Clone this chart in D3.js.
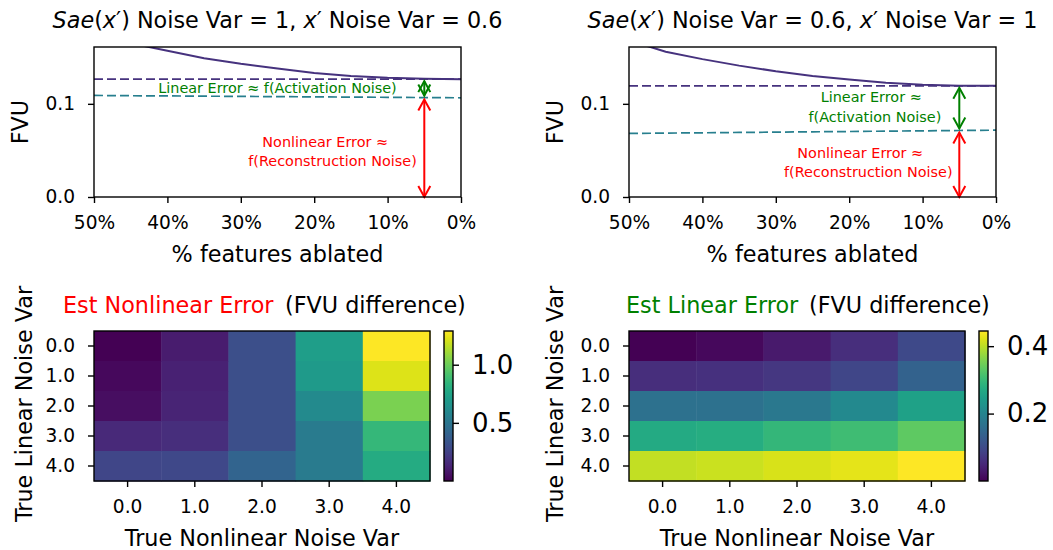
<!DOCTYPE html>
<html><head><meta charset="utf-8">
<script src="https://cdn.jsdelivr.net/npm/d3@7"></script>
<style>
html,body{margin:0;padding:0;background:#fff;}
svg{display:block;font-family:"DejaVu Sans",sans-serif;}
</style></head>
<body><svg id="c" width="1053" height="550"></svg>
<script>
// ---------- data ----------
const pctTicks = [50, 40, 30, 20, 10, 0];
const pct = [50, 45, 40, 35, 30, 25, 20, 15, 10, 5, 0];
// left panel: Sae(x') noise var = 1, x' noise var = 0.6
const leftSae = [0.175, 0.165, 0.157, 0.149, 0.143, 0.138, 0.133, 0.130, 0.128, 0.127, 0.1265];
const leftSaeFull = 0.1265;   // dashed purple
const leftLinear = [0.1090, 0.1087, 0.1085, 0.1082, 0.1080, 0.1077, 0.1075, 0.1072, 0.1070, 0.1067, 0.1065];
// right panel: Sae(x') noise var = 0.6, x' noise var = 1
const rightSae = [0.168, 0.156, 0.148, 0.141, 0.135, 0.130, 0.126, 0.1225, 0.1205, 0.1195, 0.1193];
const rightSaeFull = 0.1193;
const rightLinear = [0.0682, 0.0686, 0.0689, 0.0693, 0.0696, 0.0700, 0.0703, 0.0707, 0.0710, 0.0714, 0.0717];
const fvuTicks = [0.0, 0.1];
const arrowPct = 5;

const noiseCats = ["0.0", "1.0", "2.0", "3.0", "4.0"];
// rows: true linear noise var; cols: true nonlinear noise var
const estNonlinear = [
  [0.00, 0.10, 0.31, 0.72, 1.29],
  [0.03, 0.12, 0.31, 0.70, 1.22],
  [0.05, 0.13, 0.31, 0.61, 1.03],
  [0.15, 0.17, 0.31, 0.53, 0.86],
  [0.27, 0.28, 0.41, 0.53, 0.79]
];
const estLinear = [
  [0.000, 0.009, 0.031, 0.058, 0.098],
  [0.058, 0.062, 0.071, 0.093, 0.138],
  [0.165, 0.165, 0.178, 0.209, 0.254],
  [0.271, 0.276, 0.294, 0.307, 0.334],
  [0.405, 0.409, 0.418, 0.427, 0.445]
];
const cbTicksNonlinear = [0.5, 1.0];
const cbTicksLinear = [0.2, 0.4];

// ---------- styles ----------
const FONT_TICK = 18.6, FONT_LABEL = 22.3, FONT_ANN = 14.4, FONT_CB = 26;
const PAD = 13;
const PURPLE = "#46327e", TEAL = "#277f8e";
const svg = d3.select("#c");
svg.append("rect").attr("width", 1053).attr("height", 550).attr("fill", "#fff");

function styleAxis(g, fs) {
  g.select(".domain").remove();
  g.selectAll(".tick line").attr("stroke", "#000").attr("stroke-width", 1.4);
  g.selectAll(".tick text").attr("fill", "#000").attr("font-size", fs).attr("font-family", "DejaVu Sans");
}

function arrow(g, x, yA, yB, color) {
  const hl = 11, hw = 6;
  g.append("line").attr("x1", x).attr("x2", x).attr("y1", yA).attr("y2", yB)
    .attr("stroke", color).attr("stroke-width", 2);
  const dir = yB < yA ? -1 : 1;
  g.append("path").attr("d", `M${x - hw},${yB - dir * hl}L${x},${yB}L${x + hw},${yB - dir * hl}`)
    .attr("fill", "none").attr("stroke", color).attr("stroke-width", 2);
  g.append("path").attr("d", `M${x - hw},${yA + dir * hl}L${x},${yA}L${x + hw},${yA + dir * hl}`)
    .attr("fill", "none").attr("stroke", color).attr("stroke-width", 2);
}

function linePanel(cfg) {
  const x = d3.scaleLinear().domain([50, 0]).range([cfg.x0, cfg.x1]);
  const y = d3.scaleLinear().domain([0, 0.161]).range([197, 47]);
  const g = svg.append("g");
  const clipId = "clip" + cfg.id;
  svg.append("clipPath").attr("id", clipId).append("rect")
    .attr("x", cfg.x0).attr("y", 47).attr("width", cfg.x1 - cfg.x0).attr("height", 150);
  const line = d3.line().x((d, i) => x(pct[i])).y(d => y(d));
  const pg = g.append("g").attr("clip-path", `url(#${clipId})`);
  pg.append("path").datum(cfg.sae).attr("d", line).attr("fill", "none")
    .attr("stroke", PURPLE).attr("stroke-width", 2);
  pg.append("path").datum(pct.map(() => cfg.saeFull)).attr("d", line).attr("fill", "none")
    .attr("stroke", PURPLE).attr("stroke-width", 1.7).attr("stroke-dasharray", "9,4");
  pg.append("path").datum(cfg.lin).attr("d", line).attr("fill", "none")
    .attr("stroke", TEAL).attr("stroke-width", 1.7).attr("stroke-dasharray", "9,4");
  const ax = x(arrowPct);
  const linAt = cfg.lin[pct.indexOf(arrowPct)];
  arrow(g, ax, y(0), y(linAt) + 2, "red");
  arrow(g, ax, y(linAt) - 2, y(cfg.saeFull) + 2, "green");
  cfg.ann.forEach(a => {
    g.append("text").attr("x", x(a.p)).attr("y", y(a.v)).attr("text-anchor", "middle")
      .attr("dominant-baseline", "central").attr("font-size", FONT_ANN).attr("fill", a.c).text(a.t);
  });
  const gx = g.append("g").attr("transform", "translate(0,197)")
    .call(d3.axisBottom(x).tickValues(pctTicks).tickFormat(d => d + "%").tickSize(6).tickPadding(PAD));
  styleAxis(gx, FONT_TICK);
  const gy = g.append("g").attr("transform", `translate(${cfg.x0},0)`)
    .call(d3.axisLeft(y).tickValues(fvuTicks).tickFormat(d3.format(".1f")).tickSize(6).tickPadding(PAD));
  styleAxis(gy, FONT_TICK);
  g.append("rect").attr("x", cfg.x0).attr("y", 47).attr("width", cfg.x1 - cfg.x0).attr("height", 150)
    .attr("fill", "none").attr("stroke", "#000").attr("stroke-width", 1.4);
  g.append("text").attr("transform", `translate(${cfg.ylx},122) rotate(-90)`).attr("text-anchor", "middle")
    .attr("font-size", FONT_LABEL).text("FVU");
  g.append("text").attr("x", (cfg.x0 + cfg.x1) / 2).attr("y", 262).attr("text-anchor", "middle")
    .attr("font-size", FONT_LABEL).text("% features ablated");
  const t = g.append("text").attr("x", (cfg.x0 + cfg.x1) / 2).attr("y", 28).attr("text-anchor", "middle")
    .attr("font-size", FONT_LABEL);
  t.append("tspan").attr("font-style", "italic").text("Sae");
  t.append("tspan").text("(");
  t.append("tspan").attr("font-style", "italic").text("x");
  t.append("tspan").text("′) Noise Var = " + cfg.v1 + ", ");
  t.append("tspan").attr("font-style", "italic").text("x");
  t.append("tspan").text("′ Noise Var = " + cfg.v2);
}

linePanel({
  id: "L", x0: 94, x1: 461, ylx: 28, sae: leftSae, saeFull: leftSaeFull, lin: leftLinear, v1: "1", v2: "0.6",
  ann: [
    { p: 25, v: 0.1172, c: "green", t: "Linear Error ≈ f(Activation Noise)" },
    { p: 18.5, v: 0.0593, c: "red", t: "Nonlinear Error ≈" },
    { p: 17.5, v: 0.0386, c: "red", t: "f(Reconstruction Noise)" }
  ]
});
linePanel({
  id: "R", x0: 629, x1: 996, ylx: 563, sae: rightSae, saeFull: rightSaeFull, lin: rightLinear, v1: "0.6", v2: "1",
  ann: [
    { p: 17.0, v: 0.1068, c: "green", t: "Linear Error ≈" },
    { p: 16.5, v: 0.0864, c: "green", t: "f(Activation Noise)" },
    { p: 18.5, v: 0.0475, c: "red", t: "Nonlinear Error ≈" },
    { p: 17.4, v: 0.0268, c: "red", t: "f(Reconstruction Noise)" }
  ]
});

function heatPanel(cfg) {
  const x = d3.scaleBand().domain(noiseCats).range([cfg.x0, cfg.x0 + 336]);
  const y = d3.scaleBand().domain(noiseCats).range([331, 481]);
  const flat = cfg.data.flat();
  const ext = d3.extent(flat);
  const col = d3.scaleSequential(d3.interpolateViridis).domain(ext);
  const g = svg.append("g");
  cfg.data.forEach((row, r) => row.forEach((v, c) => {
    g.append("rect").attr("x", x(noiseCats[c])).attr("y", y(noiseCats[r]))
      .attr("width", x.bandwidth() + 0.5).attr("height", y.bandwidth() + 0.5).attr("fill", col(v));
  }));
  g.append("rect").attr("x", cfg.x0).attr("y", 331).attr("width", 336).attr("height", 150)
    .attr("fill", "none").attr("stroke", "#000").attr("stroke-width", 1.4);
  const gx = g.append("g").attr("transform", "translate(0,481)")
    .call(d3.axisBottom(x).tickSize(6).tickPadding(PAD));
  styleAxis(gx, FONT_TICK);
  const gy = g.append("g").attr("transform", `translate(${cfg.x0},0)`)
    .call(d3.axisLeft(y).tickSize(6).tickPadding(PAD));
  styleAxis(gy, FONT_TICK);
  const cbx = cfg.x0 + 350, cbw = 9;
  const cy = d3.scaleLinear().domain(ext).range([481, 331]);
  const gid = "grad" + cfg.id;
  const grad = svg.append("defs").append("linearGradient").attr("id", gid)
    .attr("x1", 0).attr("y1", 1).attr("x2", 0).attr("y2", 0);
  d3.range(0, 1.0001, 0.05).forEach(t => grad.append("stop").attr("offset", t).attr("stop-color", d3.interpolateViridis(t)));
  g.append("rect").attr("x", cbx).attr("y", 331).attr("width", cbw).attr("height", 150)
    .attr("fill", `url(#${gid})`).attr("stroke", "#000").attr("stroke-width", 1.4);
  const gc = g.append("g").attr("transform", `translate(${cbx + cbw},0)`)
    .call(d3.axisRight(cy).tickValues(cfg.cbTicks).tickFormat(d3.format(".1f")).tickSize(6).tickPadding(PAD));
  styleAxis(gc, FONT_CB);
  g.append("text").attr("transform", `translate(${cfg.ylx},404) rotate(-90)`).attr("text-anchor", "middle")
    .attr("font-size", FONT_LABEL).text("True Linear Noise Var");
  g.append("text").attr("x", cfg.x0 + 168).attr("y", 546).attr("text-anchor", "middle")
    .attr("font-size", FONT_LABEL).text("True Nonlinear Noise Var");
  g.append("text").attr("x", cfg.t1x).attr("y", 313).attr("font-size", FONT_LABEL).attr("fill", cfg.tc).text(cfg.t1);
  g.append("text").attr("x", cfg.t2x).attr("y", 313).attr("font-size", FONT_LABEL).attr("fill", "#000").text("(FVU difference)");
}

heatPanel({ id: "HL", x0: 94, data: estNonlinear, cbTicks: cbTicksNonlinear, ylx: 32,
  t1: "Est Nonlinear Error", tc: "red", t1x: 63, t2x: 285 });
heatPanel({ id: "HR", x0: 629, data: estLinear, cbTicks: cbTicksLinear, ylx: 563,
  t1: "Est Linear Error", tc: "green", t1x: 626, t2x: 809 });
</script></body></html>
